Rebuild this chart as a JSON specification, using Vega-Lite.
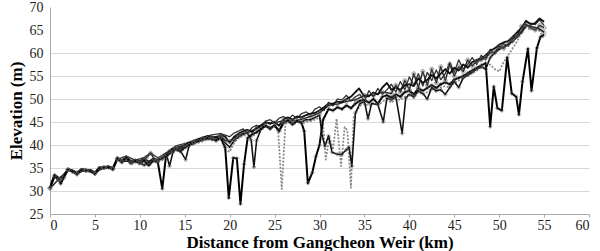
{
  "$schema": "https://vega.github.io/schema/vega-lite/v6.json",
  "width": 539,
  "height": 207,
  "autosize": {"type": "none"},
  "padding": {"left": 50, "top": 7, "right": 11, "bottom": 37},
  "background": "white",
  "config": {
    "view": {"stroke": null},
    "font": "'Liberation Serif', 'DejaVu Serif', serif"
  },
  "resolve": {"axis": {"y": "independent"}},
  "data": {"values": [
{"s":"C","x":0,"y":30.5},{"s":"C","x":0.5,"y":33},{"s":"C","x":1,"y":32.4},{"s":"C","x":1.5,"y":32.6},{"s":"C","x":2,"y":34.5},{"s":"C","x":2.5,"y":34.2},{"s":"C","x":3,"y":33.8},{"s":"C","x":3.5,"y":34.4},{"s":"C","x":4,"y":34.3},{"s":"C","x":4.5,"y":34.2},{"s":"C","x":5,"y":33.6},{"s":"C","x":5.5,"y":34.8},{"s":"C","x":6,"y":34.9},{"s":"C","x":6.5,"y":35},{"s":"C","x":7,"y":34.6},{"s":"C","x":7.5,"y":36.8},{"s":"C","x":8,"y":36.2},{"s":"C","x":8.5,"y":37},{"s":"C","x":9,"y":35.8},{"s":"C","x":9.5,"y":36.2},{"s":"C","x":10,"y":35.8},{"s":"C","x":10.5,"y":36.2},{"s":"C","x":11,"y":35.4},{"s":"C","x":11.5,"y":36.4},{"s":"C","x":12,"y":36.2},{"s":"C","x":12.5,"y":36.8},{"s":"C","x":13,"y":37.5},{"s":"C","x":13.5,"y":38.2},{"s":"C","x":14,"y":38.8},{"s":"C","x":14.5,"y":38.5},{"s":"C","x":15,"y":39.2},{"s":"C","x":15.5,"y":39.6},{"s":"C","x":16,"y":40.2},{"s":"C","x":16.5,"y":40.5},{"s":"C","x":17,"y":40.8},{"s":"C","x":17.5,"y":41.2},{"s":"C","x":18,"y":41},{"s":"C","x":18.5,"y":40.8},{"s":"C","x":19,"y":41.3},{"s":"C","x":19.5,"y":39},{"s":"C","x":20,"y":38.5},{"s":"C","x":20.5,"y":40.5},{"s":"C","x":21,"y":41.5},{"s":"C","x":21.5,"y":42},{"s":"C","x":22,"y":42.2},{"s":"C","x":22.5,"y":41.8},{"s":"C","x":23,"y":42.6},{"s":"C","x":23.5,"y":43.2},{"s":"C","x":24,"y":44},{"s":"C","x":24.5,"y":43.6},{"s":"C","x":25,"y":44},{"s":"C","x":25.4,"y":43},{"s":"C","x":25.8,"y":30.4},{"s":"C","x":26.2,"y":44.5},{"s":"C","x":26.5,"y":45},{"s":"C","x":27,"y":44.3},{"s":"C","x":27.5,"y":45},{"s":"C","x":28,"y":44.6},{"s":"C","x":28.5,"y":45},{"s":"C","x":29,"y":45.2},{"s":"C","x":29.5,"y":45.5},{"s":"C","x":30,"y":46},{"s":"C","x":30.4,"y":44.3},{"s":"C","x":30.7,"y":36.8},{"s":"C","x":31.1,"y":41.8},{"s":"C","x":31.5,"y":39},{"s":"C","x":31.9,"y":45.7},{"s":"C","x":32.4,"y":35.4},{"s":"C","x":32.8,"y":43.9},{"s":"C","x":33.1,"y":43.2},{"s":"C","x":33.5,"y":30.7},{"s":"C","x":33.8,"y":46},{"s":"C","x":34.5,"y":48.5},{"s":"C","x":35,"y":49},{"s":"C","x":35.5,"y":48.5},{"s":"C","x":36,"y":49.2},{"s":"C","x":36.5,"y":48.5},{"s":"C","x":37,"y":49.5},{"s":"C","x":37.5,"y":49.8},{"s":"C","x":38,"y":49.2},{"s":"C","x":38.5,"y":50},{"s":"C","x":39,"y":49.8},{"s":"C","x":39.5,"y":50.5},{"s":"C","x":40,"y":51},{"s":"C","x":40.5,"y":50.2},{"s":"C","x":41,"y":51.5},{"s":"C","x":41.5,"y":51},{"s":"C","x":42,"y":51.5},{"s":"C","x":42.5,"y":52.2},{"s":"C","x":43,"y":51.6},{"s":"C","x":43.5,"y":52.5},{"s":"C","x":44,"y":52.8},{"s":"C","x":44.5,"y":52.5},{"s":"C","x":45,"y":53.5},{"s":"C","x":45.5,"y":54},{"s":"C","x":46,"y":54.5},{"s":"C","x":46.5,"y":55},{"s":"C","x":47,"y":55.6},{"s":"C","x":47.5,"y":56.2},{"s":"C","x":48,"y":56.8},{"s":"C","x":48.5,"y":57},{"s":"C","x":49,"y":57.5},{"s":"C","x":49.5,"y":56.5},{"s":"C","x":50,"y":56},{"s":"C","x":50.5,"y":58},{"s":"C","x":51,"y":59.5},{"s":"C","x":51.5,"y":61},{"s":"C","x":52,"y":62.5},{"s":"C","x":52.5,"y":64.5},{"s":"C","x":53,"y":65.5},{"s":"C","x":53.5,"y":65.2},{"s":"C","x":54,"y":65},{"s":"C","x":54.5,"y":64.8},{"s":"C","x":55,"y":63},
{"s":"F","x":0,"y":30.9},{"s":"F","x":0.5,"y":33.5},{"s":"F","x":1,"y":32.2},{"s":"F","x":1.5,"y":33.1},{"s":"F","x":2,"y":34.9},{"s":"F","x":3,"y":33.9},{"s":"F","x":4,"y":34.7},{"s":"F","x":5,"y":34.1},{"s":"F","x":6,"y":35.3},{"s":"F","x":7,"y":35.1},{"s":"F","x":7.5,"y":36.9},{"s":"F","x":8.5,"y":37.6},{"s":"F","x":9.5,"y":36.7},{"s":"F","x":10.5,"y":37.3},{"s":"F","x":11.2,"y":38.3},{"s":"F","x":12,"y":37.2},{"s":"F","x":13,"y":38.4},{"s":"F","x":14,"y":39.8},{"s":"F","x":15,"y":40.3},{"s":"F","x":16,"y":41},{"s":"F","x":17,"y":41.7},{"s":"F","x":18,"y":42.2},{"s":"F","x":19,"y":42.5},{"s":"F","x":20,"y":41.8},{"s":"F","x":20.5,"y":42.6},{"s":"F","x":21.5,"y":43.5},{"s":"F","x":22,"y":42.5},{"s":"F","x":22.5,"y":43.8},{"s":"F","x":23,"y":44.3},{"s":"F","x":23.5,"y":43.5},{"s":"F","x":24,"y":45.2},{"s":"F","x":24.5,"y":45.5},{"s":"F","x":25,"y":44.8},{"s":"F","x":25.5,"y":45.8},{"s":"F","x":26,"y":46.2},{"s":"F","x":26.5,"y":45.5},{"s":"F","x":27,"y":46.5},{"s":"F","x":27.5,"y":45.8},{"s":"F","x":28,"y":46.8},{"s":"F","x":28.5,"y":47.2},{"s":"F","x":29,"y":46.5},{"s":"F","x":29.5,"y":47.8},{"s":"F","x":30,"y":48.3},{"s":"F","x":30.5,"y":47.5},{"s":"F","x":31,"y":49.3},{"s":"F","x":31.5,"y":48.5},{"s":"F","x":32,"y":50},{"s":"F","x":32.5,"y":49.8},{"s":"F","x":33,"y":50.8},{"s":"F","x":33.5,"y":49.6},{"s":"F","x":34,"y":50.5},{"s":"F","x":34.5,"y":51},{"s":"F","x":35,"y":49.5},{"s":"F","x":35.5,"y":51.8},{"s":"F","x":36,"y":50.5},{"s":"F","x":36.5,"y":52.3},{"s":"F","x":37,"y":51},{"s":"F","x":37.5,"y":52},{"s":"F","x":38,"y":53.2},{"s":"F","x":38.5,"y":51.5},{"s":"F","x":39,"y":53.8},{"s":"F","x":39.5,"y":52},{"s":"F","x":40,"y":54.8},{"s":"F","x":40.5,"y":53},{"s":"F","x":41,"y":55.5},{"s":"F","x":41.5,"y":52.8},{"s":"F","x":42,"y":55.8},{"s":"F","x":42.5,"y":54},{"s":"F","x":43,"y":56.3},{"s":"F","x":43.5,"y":54.2},{"s":"F","x":44,"y":55.5},{"s":"F","x":44.5,"y":58},{"s":"F","x":45,"y":55.8},{"s":"F","x":45.5,"y":58.5},{"s":"F","x":46,"y":56.5},{"s":"F","x":46.5,"y":57.5},{"s":"F","x":47,"y":59},{"s":"F","x":47.5,"y":57.5},{"s":"F","x":48,"y":59.5},{"s":"F","x":48.5,"y":58.5},{"s":"F","x":49,"y":60.8},{"s":"F","x":49.5,"y":59.8},{"s":"F","x":50,"y":61},{"s":"F","x":50.5,"y":62},{"s":"F","x":51,"y":61.5},{"s":"F","x":51.5,"y":63.2},{"s":"F","x":52,"y":64},{"s":"F","x":52.5,"y":64.8},{"s":"F","x":53,"y":66.8},{"s":"F","x":53.5,"y":66.5},{"s":"F","x":54,"y":66.2},{"s":"F","x":54.5,"y":67.2},{"s":"F","x":55,"y":66},
{"s":"E","x":0,"y":30.6},{"s":"E","x":1,"y":32.6},{"s":"E","x":2,"y":34.6},{"s":"E","x":3,"y":33.9},{"s":"E","x":4,"y":34.5},{"s":"E","x":5,"y":33.9},{"s":"E","x":6,"y":35.1},{"s":"E","x":7,"y":34.9},{"s":"E","x":7.5,"y":37},{"s":"E","x":8,"y":36.5},{"s":"E","x":9,"y":36.4},{"s":"E","x":10,"y":36.4},{"s":"E","x":10.7,"y":37.2},{"s":"E","x":11.2,"y":38.2},{"s":"E","x":11.8,"y":36.5},{"s":"E","x":12.5,"y":37.2},{"s":"E","x":13.3,"y":38.6},{"s":"E","x":14,"y":39.4},{"s":"E","x":15,"y":40},{"s":"E","x":16,"y":40.7},{"s":"E","x":17,"y":41.4},{"s":"E","x":18,"y":41.7},{"s":"E","x":19,"y":42},{"s":"E","x":19.5,"y":41},{"s":"E","x":20,"y":40.8},{"s":"E","x":21,"y":42.2},{"s":"E","x":22,"y":42.8},{"s":"E","x":23,"y":43.5},{"s":"E","x":24,"y":44.8},{"s":"E","x":25,"y":44.8},{"s":"E","x":26,"y":45.3},{"s":"E","x":27,"y":45.2},{"s":"E","x":28,"y":45.6},{"s":"E","x":29,"y":46.2},{"s":"E","x":30,"y":47},{"s":"E","x":31,"y":48.6},{"s":"E","x":32,"y":48.9},{"s":"E","x":33,"y":49.5},{"s":"E","x":34,"y":49.8},{"s":"E","x":35,"y":50.8},{"s":"E","x":36,"y":50.8},{"s":"E","x":37,"y":51.5},{"s":"E","x":38,"y":51.2},{"s":"E","x":38.5,"y":53},{"s":"E","x":39,"y":51.5},{"s":"E","x":39.5,"y":54},{"s":"E","x":40,"y":52},{"s":"E","x":40.5,"y":55.5},{"s":"E","x":41,"y":52.5},{"s":"E","x":41.5,"y":56},{"s":"E","x":42,"y":53},{"s":"E","x":42.5,"y":56.5},{"s":"E","x":43,"y":53.5},{"s":"E","x":43.5,"y":57},{"s":"E","x":44,"y":54},{"s":"E","x":44.5,"y":57.5},{"s":"E","x":45,"y":55},{"s":"E","x":45.5,"y":57},{"s":"E","x":46,"y":56},{"s":"E","x":46.5,"y":58.5},{"s":"E","x":47,"y":57.2},{"s":"E","x":47.5,"y":58.2},{"s":"E","x":48,"y":58.5},{"s":"E","x":48.5,"y":59},{"s":"E","x":49,"y":60},{"s":"E","x":49.5,"y":60.2},{"s":"E","x":50,"y":61.5},{"s":"E","x":50.5,"y":61},{"s":"E","x":51,"y":62},{"s":"E","x":51.5,"y":63},{"s":"E","x":52,"y":63.8},{"s":"E","x":52.5,"y":65.8},{"s":"E","x":53,"y":66.2},{"s":"E","x":53.5,"y":65.5},{"s":"E","x":54,"y":65},{"s":"E","x":54.5,"y":66},{"s":"E","x":55,"y":65.5},
{"s":"B","x":0,"y":30.8},{"s":"B","x":0.5,"y":33.6},{"s":"B","x":1,"y":32.8},{"s":"B","x":1.5,"y":33.2},{"s":"B","x":2,"y":34.8},{"s":"B","x":2.5,"y":34.5},{"s":"B","x":3,"y":34},{"s":"B","x":3.5,"y":34.8},{"s":"B","x":4,"y":34.6},{"s":"B","x":4.5,"y":34.6},{"s":"B","x":5,"y":34},{"s":"B","x":5.5,"y":35.2},{"s":"B","x":6,"y":35.2},{"s":"B","x":6.5,"y":35.4},{"s":"B","x":7,"y":35},{"s":"B","x":7.5,"y":37.3},{"s":"B","x":8,"y":36.6},{"s":"B","x":8.5,"y":37.5},{"s":"B","x":9,"y":36.5},{"s":"B","x":9.5,"y":36.8},{"s":"B","x":10,"y":36.5},{"s":"B","x":10.5,"y":37},{"s":"B","x":11,"y":36.4},{"s":"B","x":11.5,"y":37},{"s":"B","x":12,"y":36.8},{"s":"B","x":12.5,"y":37.3},{"s":"B","x":13,"y":38},{"s":"B","x":13.5,"y":39},{"s":"B","x":14,"y":39.5},{"s":"B","x":14.5,"y":39.2},{"s":"B","x":15,"y":40},{"s":"B","x":15.5,"y":40.4},{"s":"B","x":16,"y":40.8},{"s":"B","x":16.5,"y":41.2},{"s":"B","x":17,"y":41.6},{"s":"B","x":17.5,"y":41.9},{"s":"B","x":18,"y":41.8},{"s":"B","x":18.5,"y":41.5},{"s":"B","x":19,"y":42.2},{"s":"B","x":19.5,"y":41.8},{"s":"B","x":20,"y":40.5},{"s":"B","x":20.5,"y":41.8},{"s":"B","x":21,"y":42.5},{"s":"B","x":21.5,"y":43},{"s":"B","x":22,"y":43.3},{"s":"B","x":22.5,"y":42.8},{"s":"B","x":23,"y":43.8},{"s":"B","x":23.5,"y":44.3},{"s":"B","x":24,"y":45},{"s":"B","x":24.5,"y":44.6},{"s":"B","x":25,"y":45},{"s":"B","x":25.5,"y":44.2},{"s":"B","x":26,"y":45.6},{"s":"B","x":26.5,"y":46},{"s":"B","x":27,"y":45.5},{"s":"B","x":27.5,"y":46.2},{"s":"B","x":28,"y":46},{"s":"B","x":28.5,"y":46.5},{"s":"B","x":29,"y":46.8},{"s":"B","x":29.5,"y":47},{"s":"B","x":30,"y":47.5},{"s":"B","x":30.5,"y":48.2},{"s":"B","x":31,"y":49},{"s":"B","x":31.5,"y":49},{"s":"B","x":32,"y":49.4},{"s":"B","x":32.5,"y":49.3},{"s":"B","x":33,"y":50},{"s":"B","x":33.5,"y":50.5},{"s":"B","x":34,"y":51.5},{"s":"B","x":34.4,"y":52.3},{"s":"B","x":35,"y":50.5},{"s":"B","x":35.5,"y":50.6},{"s":"B","x":36,"y":51.4},{"s":"B","x":36.5,"y":51},{"s":"B","x":37,"y":52.5},{"s":"B","x":37.5,"y":53.5},{"s":"B","x":38,"y":52},{"s":"B","x":38.5,"y":52.5},{"s":"B","x":39,"y":52},{"s":"B","x":39.5,"y":53},{"s":"B","x":40,"y":53.2},{"s":"B","x":40.5,"y":52.8},{"s":"B","x":41,"y":54.5},{"s":"B","x":41.5,"y":53.5},{"s":"B","x":42,"y":54.2},{"s":"B","x":42.5,"y":55.2},{"s":"B","x":43,"y":54.5},{"s":"B","x":43.5,"y":55.5},{"s":"B","x":44,"y":56.5},{"s":"B","x":44.5,"y":55.5},{"s":"B","x":45,"y":56.8},{"s":"B","x":45.5,"y":56.2},{"s":"B","x":46,"y":57.5},{"s":"B","x":46.5,"y":56.8},{"s":"B","x":47,"y":58},{"s":"B","x":47.5,"y":58.5},{"s":"B","x":48,"y":58.8},{"s":"B","x":48.5,"y":59.5},{"s":"B","x":49,"y":60.5},{"s":"B","x":49.5,"y":61},{"s":"B","x":50,"y":61.8},{"s":"B","x":50.5,"y":62.3},{"s":"B","x":51,"y":62.6},{"s":"B","x":51.5,"y":63.5},{"s":"B","x":52,"y":64.5},{"s":"B","x":52.5,"y":65.5},{"s":"B","x":53,"y":67},{"s":"B","x":53.5,"y":66.2},{"s":"B","x":54,"y":66.5},{"s":"B","x":54.5,"y":67.5},{"s":"B","x":55,"y":66.8},
{"s":"D","x":0,"y":30.7},{"s":"D","x":0.5,"y":33.4},{"s":"D","x":1,"y":32.6},{"s":"D","x":1.5,"y":33},{"s":"D","x":2,"y":34.7},{"s":"D","x":2.5,"y":34.3},{"s":"D","x":3,"y":33.7},{"s":"D","x":3.5,"y":34.6},{"s":"D","x":4,"y":34.5},{"s":"D","x":4.5,"y":34.4},{"s":"D","x":5,"y":33.8},{"s":"D","x":5.5,"y":35},{"s":"D","x":6,"y":35.1},{"s":"D","x":6.5,"y":35.2},{"s":"D","x":7,"y":34.8},{"s":"D","x":7.5,"y":37.1},{"s":"D","x":8,"y":36.4},{"s":"D","x":8.5,"y":37.3},{"s":"D","x":9,"y":36.2},{"s":"D","x":9.5,"y":36.6},{"s":"D","x":10,"y":36.1},{"s":"D","x":10.5,"y":35.6},{"s":"D","x":11,"y":36.2},{"s":"D","x":11.5,"y":37},{"s":"D","x":12,"y":36.6},{"s":"D","x":12.5,"y":37},{"s":"D","x":13,"y":37.8},{"s":"D","x":13.3,"y":35.4},{"s":"D","x":13.7,"y":38.5},{"s":"D","x":14,"y":39.2},{"s":"D","x":14.5,"y":38.8},{"s":"D","x":15.1,"y":36.8},{"s":"D","x":15.5,"y":40},{"s":"D","x":16,"y":40.4},{"s":"D","x":16.5,"y":40.9},{"s":"D","x":17,"y":41.2},{"s":"D","x":17.5,"y":41.5},{"s":"D","x":18,"y":41.4},{"s":"D","x":18.5,"y":41},{"s":"D","x":19,"y":41.8},{"s":"D","x":19.5,"y":40.5},{"s":"D","x":20,"y":39.5},{"s":"D","x":20.5,"y":41},{"s":"D","x":21,"y":41.8},{"s":"D","x":21.5,"y":42.4},{"s":"D","x":22,"y":42.6},{"s":"D","x":22.4,"y":41},{"s":"D","x":22.7,"y":35.2},{"s":"D","x":23,"y":41},{"s":"D","x":23.5,"y":43.5},{"s":"D","x":24,"y":44.2},{"s":"D","x":24.5,"y":43.8},{"s":"D","x":25,"y":44.2},{"s":"D","x":25.5,"y":43.2},{"s":"D","x":26,"y":45},{"s":"D","x":26.5,"y":45.4},{"s":"D","x":27,"y":44.6},{"s":"D","x":27.5,"y":45.3},{"s":"D","x":28,"y":45},{"s":"D","x":28.5,"y":45.5},{"s":"D","x":29,"y":45.5},{"s":"D","x":29.5,"y":46},{"s":"D","x":30,"y":46.5},{"s":"D","x":30.3,"y":42},{"s":"D","x":30.6,"y":39.7},{"s":"D","x":31,"y":42},{"s":"D","x":31.4,"y":38.4},{"s":"D","x":32,"y":38},{"s":"D","x":32.5,"y":38},{"s":"D","x":33,"y":39},{"s":"D","x":33.3,"y":39.5},{"s":"D","x":33.6,"y":35.4},{"s":"D","x":34,"y":47},{"s":"D","x":34.5,"y":49},{"s":"D","x":35,"y":49.5},{"s":"D","x":35.4,"y":45.7},{"s":"D","x":35.8,"y":49},{"s":"D","x":36.5,"y":48.8},{"s":"D","x":37.1,"y":45},{"s":"D","x":37.5,"y":50.2},{"s":"D","x":38,"y":49.8},{"s":"D","x":38.5,"y":50.5},{"s":"D","x":39.2,"y":42.5},{"s":"D","x":39.6,"y":50.2},{"s":"D","x":40,"y":51},{"s":"D","x":40.5,"y":50.5},{"s":"D","x":41,"y":51.8},{"s":"D","x":41.5,"y":51.2},{"s":"D","x":42,"y":50},{"s":"D","x":42.5,"y":52.5},{"s":"D","x":43,"y":51.8},{"s":"D","x":43.5,"y":52},{"s":"D","x":44,"y":51},{"s":"D","x":44.5,"y":52.5},{"s":"D","x":45,"y":53.8},{"s":"D","x":45.5,"y":52.5},{"s":"D","x":46,"y":54.6},{"s":"D","x":46.5,"y":55.2},{"s":"D","x":47,"y":55.8},{"s":"D","x":47.5,"y":56.5},{"s":"D","x":48,"y":57},{"s":"D","x":48.5,"y":56.5},{"s":"D","x":49,"y":59},{"s":"D","x":49.5,"y":60},{"s":"D","x":50,"y":60.8},{"s":"D","x":50.5,"y":61.4},{"s":"D","x":51,"y":61.8},{"s":"D","x":51.5,"y":62.5},{"s":"D","x":52,"y":63.5},{"s":"D","x":52.5,"y":64.5},{"s":"D","x":53,"y":66},{"s":"D","x":53.5,"y":65.8},{"s":"D","x":54,"y":65.5},{"s":"D","x":54.5,"y":65.2},{"s":"D","x":55,"y":64.5},
{"s":"A","x":0,"y":30.6},{"s":"A","x":0.5,"y":33.2},{"s":"A","x":1,"y":32.3},{"s":"A","x":1.2,"y":31.6},{"s":"A","x":1.5,"y":32.8},{"s":"A","x":2,"y":34.6},{"s":"A","x":2.5,"y":34.2},{"s":"A","x":3,"y":33.6},{"s":"A","x":3.5,"y":34.5},{"s":"A","x":4,"y":34.4},{"s":"A","x":4.5,"y":34.3},{"s":"A","x":5,"y":33.7},{"s":"A","x":5.5,"y":34.9},{"s":"A","x":6,"y":35},{"s":"A","x":6.5,"y":35.1},{"s":"A","x":7,"y":34.7},{"s":"A","x":7.5,"y":37},{"s":"A","x":8,"y":36.2},{"s":"A","x":8.5,"y":37.2},{"s":"A","x":9,"y":36},{"s":"A","x":9.5,"y":36.5},{"s":"A","x":10,"y":36},{"s":"A","x":10.5,"y":36.6},{"s":"A","x":11,"y":35.6},{"s":"A","x":11.5,"y":36.6},{"s":"A","x":12,"y":36.3},{"s":"A","x":12.5,"y":30.5},{"s":"A","x":12.9,"y":37.4},{"s":"A","x":13.5,"y":38.5},{"s":"A","x":14,"y":39.1},{"s":"A","x":14.5,"y":38.6},{"s":"A","x":15,"y":39.5},{"s":"A","x":15.5,"y":40},{"s":"A","x":16,"y":40.5},{"s":"A","x":16.5,"y":40.8},{"s":"A","x":17,"y":41.2},{"s":"A","x":17.5,"y":41.4},{"s":"A","x":18,"y":41.3},{"s":"A","x":18.5,"y":41},{"s":"A","x":19,"y":41.6},{"s":"A","x":19.5,"y":39.5},{"s":"A","x":19.9,"y":28.5},{"s":"A","x":20.4,"y":37.2},{"s":"A","x":20.8,"y":37.1},{"s":"A","x":21.2,"y":27.2},{"s":"A","x":21.6,"y":35.8},{"s":"A","x":22,"y":41.5},{"s":"A","x":22.5,"y":42.3},{"s":"A","x":23,"y":42.8},{"s":"A","x":23.5,"y":43.5},{"s":"A","x":24,"y":44.2},{"s":"A","x":24.5,"y":43.5},{"s":"A","x":25,"y":44.3},{"s":"A","x":25.5,"y":43},{"s":"A","x":26,"y":44.8},{"s":"A","x":26.5,"y":45.3},{"s":"A","x":27,"y":44.5},{"s":"A","x":27.5,"y":45.2},{"s":"A","x":28,"y":44.8},{"s":"A","x":28.3,"y":43},{"s":"A","x":28.7,"y":31.7},{"s":"A","x":29.2,"y":34},{"s":"A","x":29.6,"y":37.5},{"s":"A","x":30,"y":40},{"s":"A","x":30.4,"y":45.5},{"s":"A","x":31,"y":47.8},{"s":"A","x":31.5,"y":47.5},{"s":"A","x":32,"y":48.2},{"s":"A","x":32.5,"y":47.8},{"s":"A","x":33,"y":48.6},{"s":"A","x":33.5,"y":48},{"s":"A","x":34,"y":49},{"s":"A","x":34.5,"y":49.6},{"s":"A","x":35,"y":49.8},{"s":"A","x":35.5,"y":49.2},{"s":"A","x":36,"y":50},{"s":"A","x":36.5,"y":49},{"s":"A","x":37,"y":50.5},{"s":"A","x":37.5,"y":50.8},{"s":"A","x":38,"y":50.3},{"s":"A","x":38.5,"y":51},{"s":"A","x":39,"y":50.5},{"s":"A","x":39.5,"y":51.5},{"s":"A","x":40,"y":51.8},{"s":"A","x":40.5,"y":51},{"s":"A","x":41,"y":52.3},{"s":"A","x":41.5,"y":51.8},{"s":"A","x":42,"y":52.4},{"s":"A","x":42.5,"y":53},{"s":"A","x":43,"y":52.4},{"s":"A","x":43.5,"y":53.2},{"s":"A","x":44,"y":53.6},{"s":"A","x":44.5,"y":53.2},{"s":"A","x":45,"y":54.2},{"s":"A","x":45.5,"y":54.6},{"s":"A","x":46,"y":55},{"s":"A","x":46.5,"y":55.6},{"s":"A","x":47,"y":56.2},{"s":"A","x":47.5,"y":56.8},{"s":"A","x":48,"y":57.3},{"s":"A","x":48.5,"y":57.8},{"s":"A","x":49,"y":44},{"s":"A","x":49.4,"y":52.7},{"s":"A","x":49.8,"y":48},{"s":"A","x":50.3,"y":47.5},{"s":"A","x":50.9,"y":59},{"s":"A","x":51.4,"y":51.2},{"s":"A","x":51.9,"y":50.5},{"s":"A","x":52.2,"y":46.6},{"s":"A","x":52.6,"y":53.8},{"s":"A","x":53.2,"y":60.9},{"s":"A","x":53.6,"y":51.8},{"s":"A","x":54.2,"y":61.1},{"s":"A","x":54.6,"y":63.5},{"s":"A","x":55,"y":64}
  ]},
  "layer": [
    {
      "mark": {"type": "line", "strokeJoin": "round"},
      "encoding": {
        "x": {
          "field": "x", "type": "quantitative",
          "scale": {"domain": [0, 60], "nice": false, "zero": false},
          "axis": {
            "values": [0,5,10,15,20,25,30,35,40,45,50,55,60],
            "title": "Distance from Gangcheon Weir (km)",
            "titleFont": "'Liberation Serif', 'DejaVu Serif', serif", "titleFontSize": 17, "titleFontWeight": "bold", "titleColor": "#000",
            "titlePadding": 2,
            "labelFont": "'Liberation Serif', 'DejaVu Serif', serif", "labelFontSize": 14, "labelColor": "#222", "labelPadding": 1,
            "labelOverlap": false,
            "grid": false, "domainColor": "#aaa", "tickColor": "#aaa", "tickSize": 3
          }
        },
        "y": {
          "field": "y", "type": "quantitative",
          "scale": {"domain": [25, 70], "nice": false, "zero": false},
          "axis": {
            "orient": "left",
            "values": [25,30,35,40,45,50,55,60,65,70],
            "title": "Elevation (m)",
            "titleFont": "'Liberation Serif', 'DejaVu Serif', serif", "titleFontSize": 17, "titleFontWeight": "bold", "titleColor": "#000",
            "titlePadding": 4,
            "labelFont": "'Liberation Serif', 'DejaVu Serif', serif", "labelFontSize": 14, "labelColor": "#222", "labelPadding": 7,
            "labelOverlap": false,
            "grid": false,
            "ticks": false, "domainColor": "#aaa"
          }
        },
        "detail": {"field": "s"},
        "color": {
          "field": "s", "type": "nominal", "legend": null,
          "scale": {"domain": ["A","B","C","D","E","F"], "range": ["#000","#111","#888","#111","#222","#333"]}
        },
        "strokeWidth": {
          "field": "s", "type": "nominal", "legend": null,
          "scale": {"domain": ["A","B","C","D","E","F"], "range": [2, 1.3, 1, 1.6, 1.1, 1]}
        },
        "strokeDash": {
          "field": "s", "type": "nominal", "legend": null,
          "scale": {"domain": ["A","B","C","D","E","F"], "range": [[1,0],[1,0],[2,1.5],[1,0],[1,0],[1,0]]}
        }
      }
    },
    {
      "transform": [{"filter": {"field": "s", "oneOf": ["A","D","E"]}}],
      "mark": {"type": "point", "filled": false, "size": 16, "strokeWidth": 0.8},
      "encoding": {
        "x": {"field": "x", "type": "quantitative"},
        "y": {
          "field": "y", "type": "quantitative",
          "axis": {
            "orient": "left",
            "values": [30,35,40,45,50,55,60],
            "grid": true, "gridColor": "#d9d9d9", "gridWidth": 1,
            "labels": false, "ticks": false, "domain": false, "title": null
          }
        },
        "shape": {
          "field": "s", "type": "nominal", "legend": null,
          "scale": {"domain": ["A","D","E"], "range": ["diamond","diamond","cross"]}
        },
        "color": {"value": "#666"}
      }
    }
  ]
}
